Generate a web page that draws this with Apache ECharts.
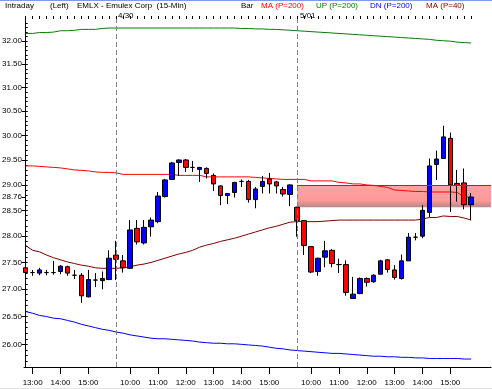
<!DOCTYPE html>
<html><head><meta charset="utf-8">
<script src="https://cdn.jsdelivr.net/npm/echarts@6/dist/echarts.min.js"></script>
<style>html,body{margin:0;padding:0;background:#fff}#c{width:492px;height:389px}</style>
</head><body><div id="c"></div>
<script>
const times = ['12:45','13:00','13:15','13:30','13:45','14:00','14:15','14:30','14:45','15:00','15:15','15:30','15:45',
 '9:30','9:45','10:00','10:15','10:30','10:45','11:00','11:15','11:30','11:45','12:00','12:15','12:30','12:45','13:00','13:15','13:30','13:45','14:00','14:15','14:30','14:45','15:00','15:15','15:30','15:45',
 '9:30','9:45','10:00','10:15','10:30','10:45','11:00','11:15','11:30','11:45','12:00','12:15','12:30','12:45','13:00','13:15','13:30','13:45','14:00','14:15','14:30','14:45','15:00','15:15','15:30','15:45'];
const dayLabels = ['4/30','5/01'];
const opens = [27.40,27.31,27.30,27.31,27.31,27.33,27.42,27.26,27.26,26.86,27.17,27.16,27.18,
 27.64,27.53,27.39,28.15,27.87,28.18,28.28,28.77,29.11,29.45,29.50,29.35,29.31,29.33,29.19,28.98,28.79,28.85,29.07,29.07,28.71,28.97,29.12,29.06,28.91,28.81,
 28.56,28.30,27.80,27.33,27.60,27.73,27.46,27.46,26.83,26.92,27.20,27.14,27.28,27.55,27.36,27.20,27.53,27.98,28.00,28.46,29.41,29.53,29.94,29.03,29.04,28.61];
const closes = [27.31,27.31,27.36,27.31,27.31,27.43,27.30,27.26,26.88,27.18,27.17,27.20,27.58,
 27.56,27.40,28.12,27.89,28.17,28.31,28.78,29.10,29.44,29.50,29.35,29.35,29.35,29.23,29.02,28.79,28.83,29.05,29.07,28.71,28.92,29.07,29.02,28.98,28.82,29.00,
 28.30,27.82,27.32,27.58,27.72,27.48,27.46,26.94,26.91,27.20,27.13,27.26,27.53,27.37,27.22,27.53,27.98,27.98,28.50,29.38,29.52,29.97,29.00,28.99,28.61,28.76];
const highs = [27.42,27.36,27.40,27.36,27.53,27.45,27.44,27.36,27.30,27.36,27.30,27.33,27.73,
 27.91,27.64,28.31,28.31,28.31,28.36,28.86,29.12,29.46,29.51,29.52,29.48,29.36,29.35,29.23,28.99,28.84,29.06,29.11,29.10,28.96,29.18,29.24,29.08,28.96,29.01,
 28.57,28.31,27.81,27.59,27.91,27.75,27.57,27.54,27.23,27.22,27.22,27.28,27.55,27.56,27.45,27.65,28.06,28.06,28.60,29.53,29.69,30.20,30.06,29.30,29.33,28.84];
const lows = [27.28,27.25,27.26,27.26,27.27,27.28,27.25,27.19,26.75,26.85,27.04,27.00,27.17,
 27.17,27.31,27.38,27.84,27.84,27.99,28.25,28.75,29.10,29.18,29.26,29.26,29.06,29.13,28.88,28.60,28.62,28.75,28.96,28.65,28.54,28.83,28.83,28.83,28.77,28.58,
 27.99,27.64,27.30,27.25,27.41,27.41,27.30,26.88,26.82,26.91,27.05,27.12,27.28,27.31,27.18,27.18,27.53,27.92,27.96,28.37,29.10,29.53,28.47,28.67,28.52,28.31];
const ma200 = [29.38,29.38,29.37,29.36,29.35,29.34,29.32,29.30,29.29,29.28,29.26,29.25,29.25,
 29.24,29.21,29.21,29.21,29.21,29.21,29.21,29.21,29.21,29.19,29.19,29.19,29.19,29.16,29.16,29.16,29.16,29.16,29.16,29.16,29.15,29.14,29.13,29.12,29.11,29.11,
 29.11,29.11,29.08,29.08,29.08,29.08,29.05,29.04,29.02,29.02,29.00,28.99,28.97,28.95,28.90,28.89,28.88,28.87,28.87,28.86,28.86,28.86,28.86,28.85,28.76,28.76];
const upBand = [32.17,32.17,32.19,32.19,32.20,32.23,32.23,32.24,32.26,32.26,32.26,32.28,32.29,
 32.29,32.29,32.29,32.29,32.29,32.29,32.29,32.29,32.29,32.29,32.29,32.29,32.29,32.29,32.29,32.29,32.29,32.29,32.28,32.28,32.27,32.27,32.26,32.26,32.25,32.24,
 32.23,32.22,32.21,32.20,32.19,32.18,32.17,32.16,32.15,32.14,32.13,32.12,32.11,32.10,32.09,32.08,32.07,32.06,32.05,32.04,32.02,32.01,32.00,31.98,31.97,31.96];
const dnBand = [26.59,26.56,26.52,26.50,26.47,26.46,26.43,26.40,26.36,26.33,26.30,26.27,26.25,
 26.22,26.20,26.17,26.15,26.13,26.11,26.10,26.10,26.09,26.08,26.07,26.06,26.04,26.03,26.02,26.02,26.01,26.01,26.00,25.99,25.98,25.97,25.95,25.93,25.92,25.90,
 25.89,25.88,25.87,25.86,25.85,25.84,25.84,25.83,25.82,25.81,25.80,25.79,25.79,25.78,25.78,25.77,25.77,25.76,25.76,25.75,25.75,25.75,25.75,25.75,25.74,25.74];
const ma40 = [27.82,27.73,27.70,27.64,27.59,27.55,27.51,27.48,27.45,27.43,27.40,27.39,27.39,
 27.39,27.40,27.42,27.45,27.47,27.50,27.54,27.58,27.62,27.66,27.69,27.73,27.79,27.83,27.86,27.90,27.93,27.96,28.00,28.04,28.08,28.12,28.16,28.19,28.23,28.27,
 28.28,28.28,28.28,28.28,28.29,28.30,28.31,28.31,28.31,28.31,28.31,28.31,28.31,28.31,28.31,28.31,28.31,28.31,28.33,28.36,28.36,28.39,28.38,28.38,28.35,28.31];
const yLabels = [26.00,26.50,27.00,27.50,28.00,28.50,28.76,29.00,29.50,30.00,30.50,31.00,31.50,32.00];

const F = 'Arial, "Liberation Sans", sans-serif';
const FS = 8;
const Y_MIN = 25.60, Y_MAX = 32.49, X_MIN = -0.244, X_MAX = 66.85;

const idx = times.map((t,i)=>i);
const hourIdx = idx.filter(i => times[i].endsWith(':00'));
const dayStarts = idx.filter(i => times[i] === '9:30');
const gapTop = closes[dayStarts[1]-1], gapBottom = opens[dayStarts[1]];
const minorTicks = []; for (let v = 257; v <= 324; v++) minorTicks.push(v/10);
const toLine = arr => arr.map((v,i)=>[i,v]);

const chart = echarts.init(document.getElementById('c'), null, {renderer:'canvas'});
const hdr = (x,y,text,color) => ({type:'text', left:x, top:y, style:{text, fill:color||'#000', font:FS+'px '+F}});
chart.setOption({
  animation:false,
  backgroundColor:'#fff',
  graphic:[
    {type:'rect', shape:{x:0,y:0,width:492,height:1}, style:{fill:'#7f9be0'}},
    hdr(5,2,'Intraday'), hdr(50,2,'(Left)'), hdr(77,2,'EMLX - Emulex Corp  (15-Min)'),
    hdr(241,2,'Bar'), hdr(261,2,'MA (P=200)','#ff0000'), hdr(316,2,'UP (P=200)','#008000'),
    hdr(370,2,'DN (P=200)','#0000ff'), hdr(426,2,'MA (P=40)','#800000'),
    hdr(118,12,dayLabels[0]), hdr(300,12,dayLabels[1]),
    {type:'rect', shape:{x:0,y:388,width:492,height:1}, style:{fill:'#e4e4e4'}}
  ],
  grid:{left:24, right:1, top:19, bottom:22, containLabel:false, outerBoundsMode:'none'},
  xAxis:[
    {type:'value', min:X_MIN, max:X_MAX, splitLine:{show:false},
     axisLine:{lineStyle:{color:'#000',width:1}},
     axisTick:{customValues:hourIdx, length:7, lineStyle:{color:'#000'}},
     axisLabel:{customValues:hourIdx, formatter:v=>times[Math.round(v)], color:'#000', fontSize:FS, fontFamily:F, margin:12}},
    {type:'value', min:X_MIN, max:X_MAX, splitLine:{show:false}, axisLine:{show:false},
     axisTick:{customValues:idx, length:3, lineStyle:{color:'#000'}}, axisLabel:{show:false}}
  ],
  yAxis:[
    {type:'log', min:Y_MIN, max:Y_MAX, splitLine:{show:false},
     axisLine:{show:true, lineStyle:{color:'#000',width:1}},
     axisTick:{show:true, customValues:yLabels, length:4, lineStyle:{color:'#000'}},
     axisLabel:{customValues:yLabels, formatter:v=>Number(v).toFixed(2), color:'#000', fontSize:FS, fontFamily:F, margin:2}},
    {type:'log', min:Y_MIN, max:Y_MAX, splitLine:{show:false}, axisLine:{show:false},
     axisTick:{show:true, customValues:minorTicks, length:2, lineStyle:{color:'#000'}}, axisLabel:{show:false}}
  ],
  series:[
    {type:'line', data:toLine(upBand), showSymbol:false, lineStyle:{color:'#008000',width:1}, z:2, silent:true},
    {type:'line', data:toLine(ma200), showSymbol:false, lineStyle:{color:'#ff0000',width:1}, z:2, silent:true},
    {type:'line', data:toLine(dnBand), showSymbol:false, lineStyle:{color:'#0000ff',width:1}, z:2, silent:true},
    {type:'line', data:toLine(ma40), showSymbol:false, lineStyle:{color:'#800000',width:1}, z:2, silent:true},
    {type:'candlestick', encode:{x:0, y:[1,2,3,4]}, barWidth:5, z:3, silent:true,
     data:opens.map((o,i)=>[i,o,closes[i],lows[i],highs[i]]),
     itemStyle:{color:'#0000ff', color0:'#ff0000', borderColor:'#000', borderColor0:'#000', borderColorDoji:'#000', borderWidth:1}},
    {type:'line', data:[[dayStarts[1], gapTop]], showSymbol:false, z:5, silent:true, lineStyle:{width:0},
     markArea:{silent:true, itemStyle:{color:new echarts.graphic.LinearGradient(0,0,0,1,[
        {offset:0,color:'rgba(255,0,0,0.36)'},{offset:0.7,color:'rgba(245,0,0,0.40)'},{offset:1,color:'rgba(110,40,40,0.55)'}])},
       data:[[{coord:[dayStarts[1], gapTop]},{coord:[X_MAX, gapBottom]}]]},
     markLine:{silent:true, symbol:'none', label:{show:false},
       data:[
         [{coord:[dayStarts[1], gapTop], lineStyle:{color:'#ff0000',width:1,type:'solid'}},{coord:[X_MAX, gapTop]}],
         {xAxis:dayStarts[0], lineStyle:{color:'#808080',width:1,type:[5,3]}},
         {xAxis:dayStarts[1], lineStyle:{color:'#808080',width:1,type:[5,3]}}
       ]}}
  ]
});
</script></body></html>
